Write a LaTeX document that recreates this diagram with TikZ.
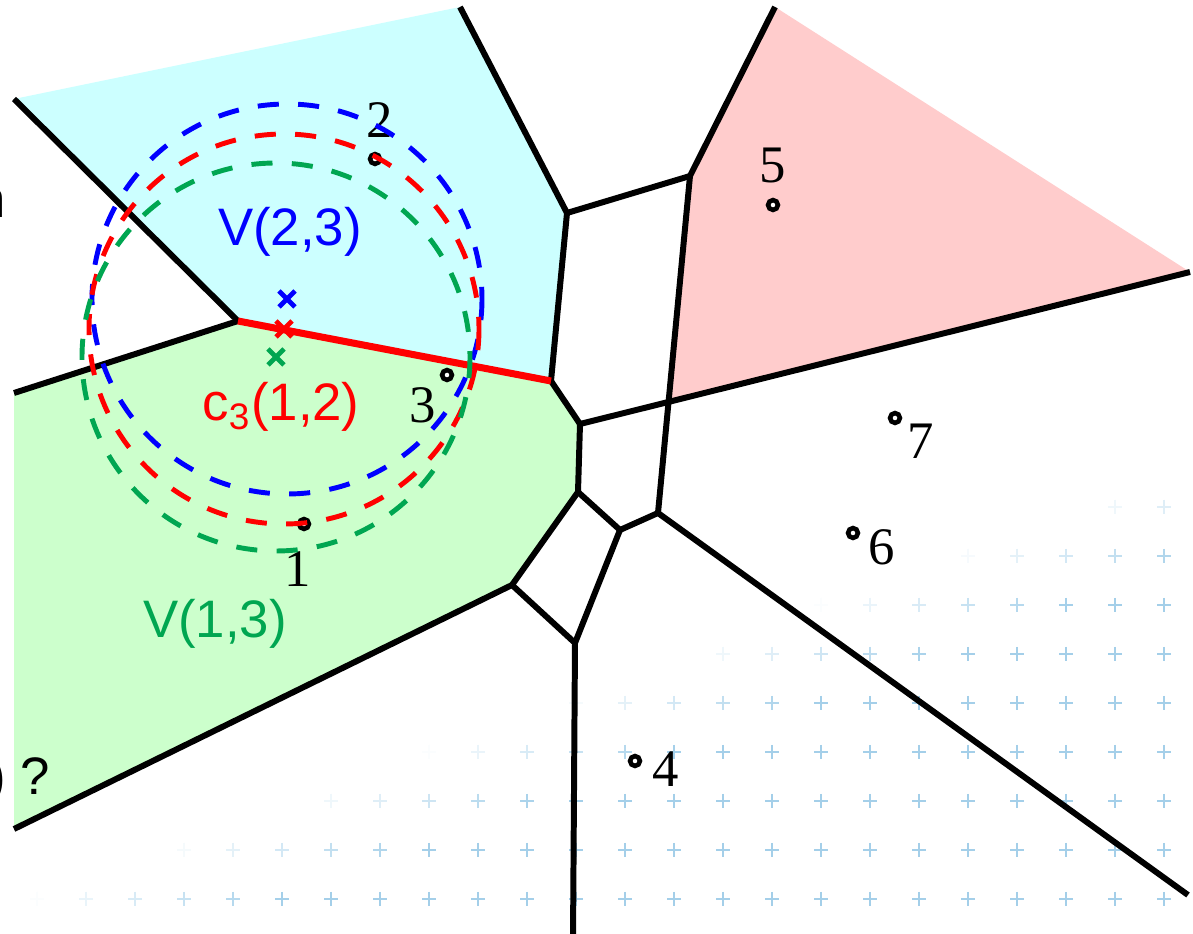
\documentclass[tikz,border=0pt]{standalone}
\usepackage{fontspec}
\setmainfont{Liberation Serif}
\setsansfont{Liberation Sans}
\usetikzlibrary{positioning}
\definecolor{vcCyan}{HTML}{CCFFFF}
\definecolor{vcGreen}{HTML}{CCFFCC}
\definecolor{vcPink}{HTML}{FFCCCC}
\definecolor{vcDarkGreen}{HTML}{00A651}
\definecolor{vcGrid}{HTML}{7DBBE0}
\begin{document}
\begin{tikzpicture}[x=0.01cm, y=-0.01cm,
  vedge/.style={line width=1.7pt, line join=round},
  bisect/.style={line width=2pt, color=red},
  site/.style={circle, draw, fill=white, line width=1.3pt, inner sep=0pt, minimum size=2.8pt},
  sitenum/.style={font=\fontsize{15pt}{18pt}\selectfont, inner sep=0pt, anchor=base},
  cellname/.style={font=\sffamily\fontsize{15pt}{18pt}\selectfont, inner sep=0pt, anchor=base},
  ring/.style={line width=1.4pt, dash pattern=on 6pt off 5.5pt},
  xmark/.style={line width=1.4pt}
]
  \useasboundingbox (0,0) rectangle (1193,934);
  \clip (0,0) rectangle (1193,934);
  \fill[white] (0,0) rectangle (1193,934);

  % faded grid in the background
  \foreach \gx in {37,86,...,1180}
    \foreach \gy in {507,556,...,900} {
      \pgfmathtruncatemacro\op{max(0,min(1,(\gx-(930-\gy)*2.67+60)/260))*70}
      \draw[vcGrid!\op!white, line width=0.6pt] (\gx-7,\gy) -- (\gx+7,\gy) (\gx,\gy-7) -- (\gx,\gy+7);
    }

  % voronoi vertices
  \coordinate (A) at (238,321);
  \coordinate (B) at (551,381);
  \coordinate (C) at (567,213);
  \coordinate (D) at (690,176);
  \coordinate (E) at (580,424);
  \coordinate (F) at (578,492);
  \coordinate (G) at (620,530);
  \coordinate (H) at (512,585);
  \coordinate (I) at (658,513);
  \coordinate (J) at (575,643);
  \coordinate (P) at (668,403);
  % open ends
  \coordinate (tl) at (14,99);
  \coordinate (tc) at (460,7);
  \coordinate (tr) at (775,7);
  \coordinate (rr) at (1190,272);
  \coordinate (br) at (1188,895);
  \coordinate (bb) at (573,940);
  \coordinate (bl) at (14,829);
  \coordinate (ml) at (14,393);

  % cells
  \fill[vcCyan] (tl) -- (tc) -- (C) -- (B) -- (A) -- cycle;
  \fill[vcGreen] (ml) -- (A) -- (B) -- (E) -- (F) -- (H) -- (bl) -- cycle;
  \fill[vcPink] (D) -- (tr) -- (rr) -- (P) -- cycle;

  % edges
  \draw[vedge] (tl) -- (A);
  \draw[vedge] (A) -- (ml);
  \draw[vedge] (B) -- (C);
  \draw[vedge] (C) -- (tc);
  \draw[vedge] (C) -- (D);
  \draw[vedge] (D) -- (tr);
  \draw[vedge] (D) -- (I);
  \draw[vedge] (B) -- (E);
  \draw[vedge] (E) -- (rr);
  \draw[vedge] (E) -- (F);
  \draw[vedge] (F) -- (G);
  \draw[vedge] (F) -- (H);
  \draw[vedge] (G) -- (I);
  \draw[vedge] (G) -- (J);
  \draw[vedge] (H) -- (J);
  \draw[vedge] (H) -- (bl);
  \draw[vedge] (I) -- (br);
  \draw[vedge] (J) -- (bb);
  \draw[bisect] (A) -- (B);

  % sites
  \node[site] (s1) at (304,524) {};
  \node[site] (s2) at (375,159) {};
  \node[site] (s3) at (447,375) {};
  \node[site] (s4) at (635,761) {};
  \node[site] (s5) at (773,205) {};
  \node[site] (s6) at (853,533) {};
  \node[site] (s7) at (895,418) {};
  \node[sitenum] (n1) at (298,587) {1};
  \node[sitenum] (n2) at (380,138) {2};
  \node[sitenum] (n3) at (423,423) {3};
  \node[sitenum] (n4) at (666,787) {4};
  \node[sitenum] (n5) at (773,183) {5};
  \node[sitenum] (n6) at (882,565) {6};
  \node[sitenum] (n7) at (921,459) {7};

  % empty circles
  \coordinate (cb) at (287,299);
  \coordinate (cr) at (284,329);
  \coordinate (cg) at (276,357);
  \draw[ring, blue] (cb) circle[radius=195];
  \draw[ring, red] (cr) circle[radius=195];
  \draw[ring, vcDarkGreen] (cg) circle[radius=194];
  \foreach \c/\col in {cb/blue, cr/red, cg/vcDarkGreen}
    \draw[xmark, \col] ([shift={(-8,-8)}]\c) -- ([shift={(8,8)}]\c)
                       ([shift={(-8,8)}]\c) -- ([shift={(8,-8)}]\c);

  \node[cellname, blue] (v23) at (290,246) {V(2,3)};
  \node[cellname, red] (c12) at (281,421) {c\textsubscript{3}(1,2)};
  \node[cellname, vcDarkGreen] (v13) at (215,638) {V(1,3)};

  % cut-off text at the left border
  \node[cellname, anchor=base east] (cut1) at (7,218) {n};
  \node[cellname, anchor=base east] (cut2) at (51,795) {) ?};
\end{tikzpicture}
\end{document}
